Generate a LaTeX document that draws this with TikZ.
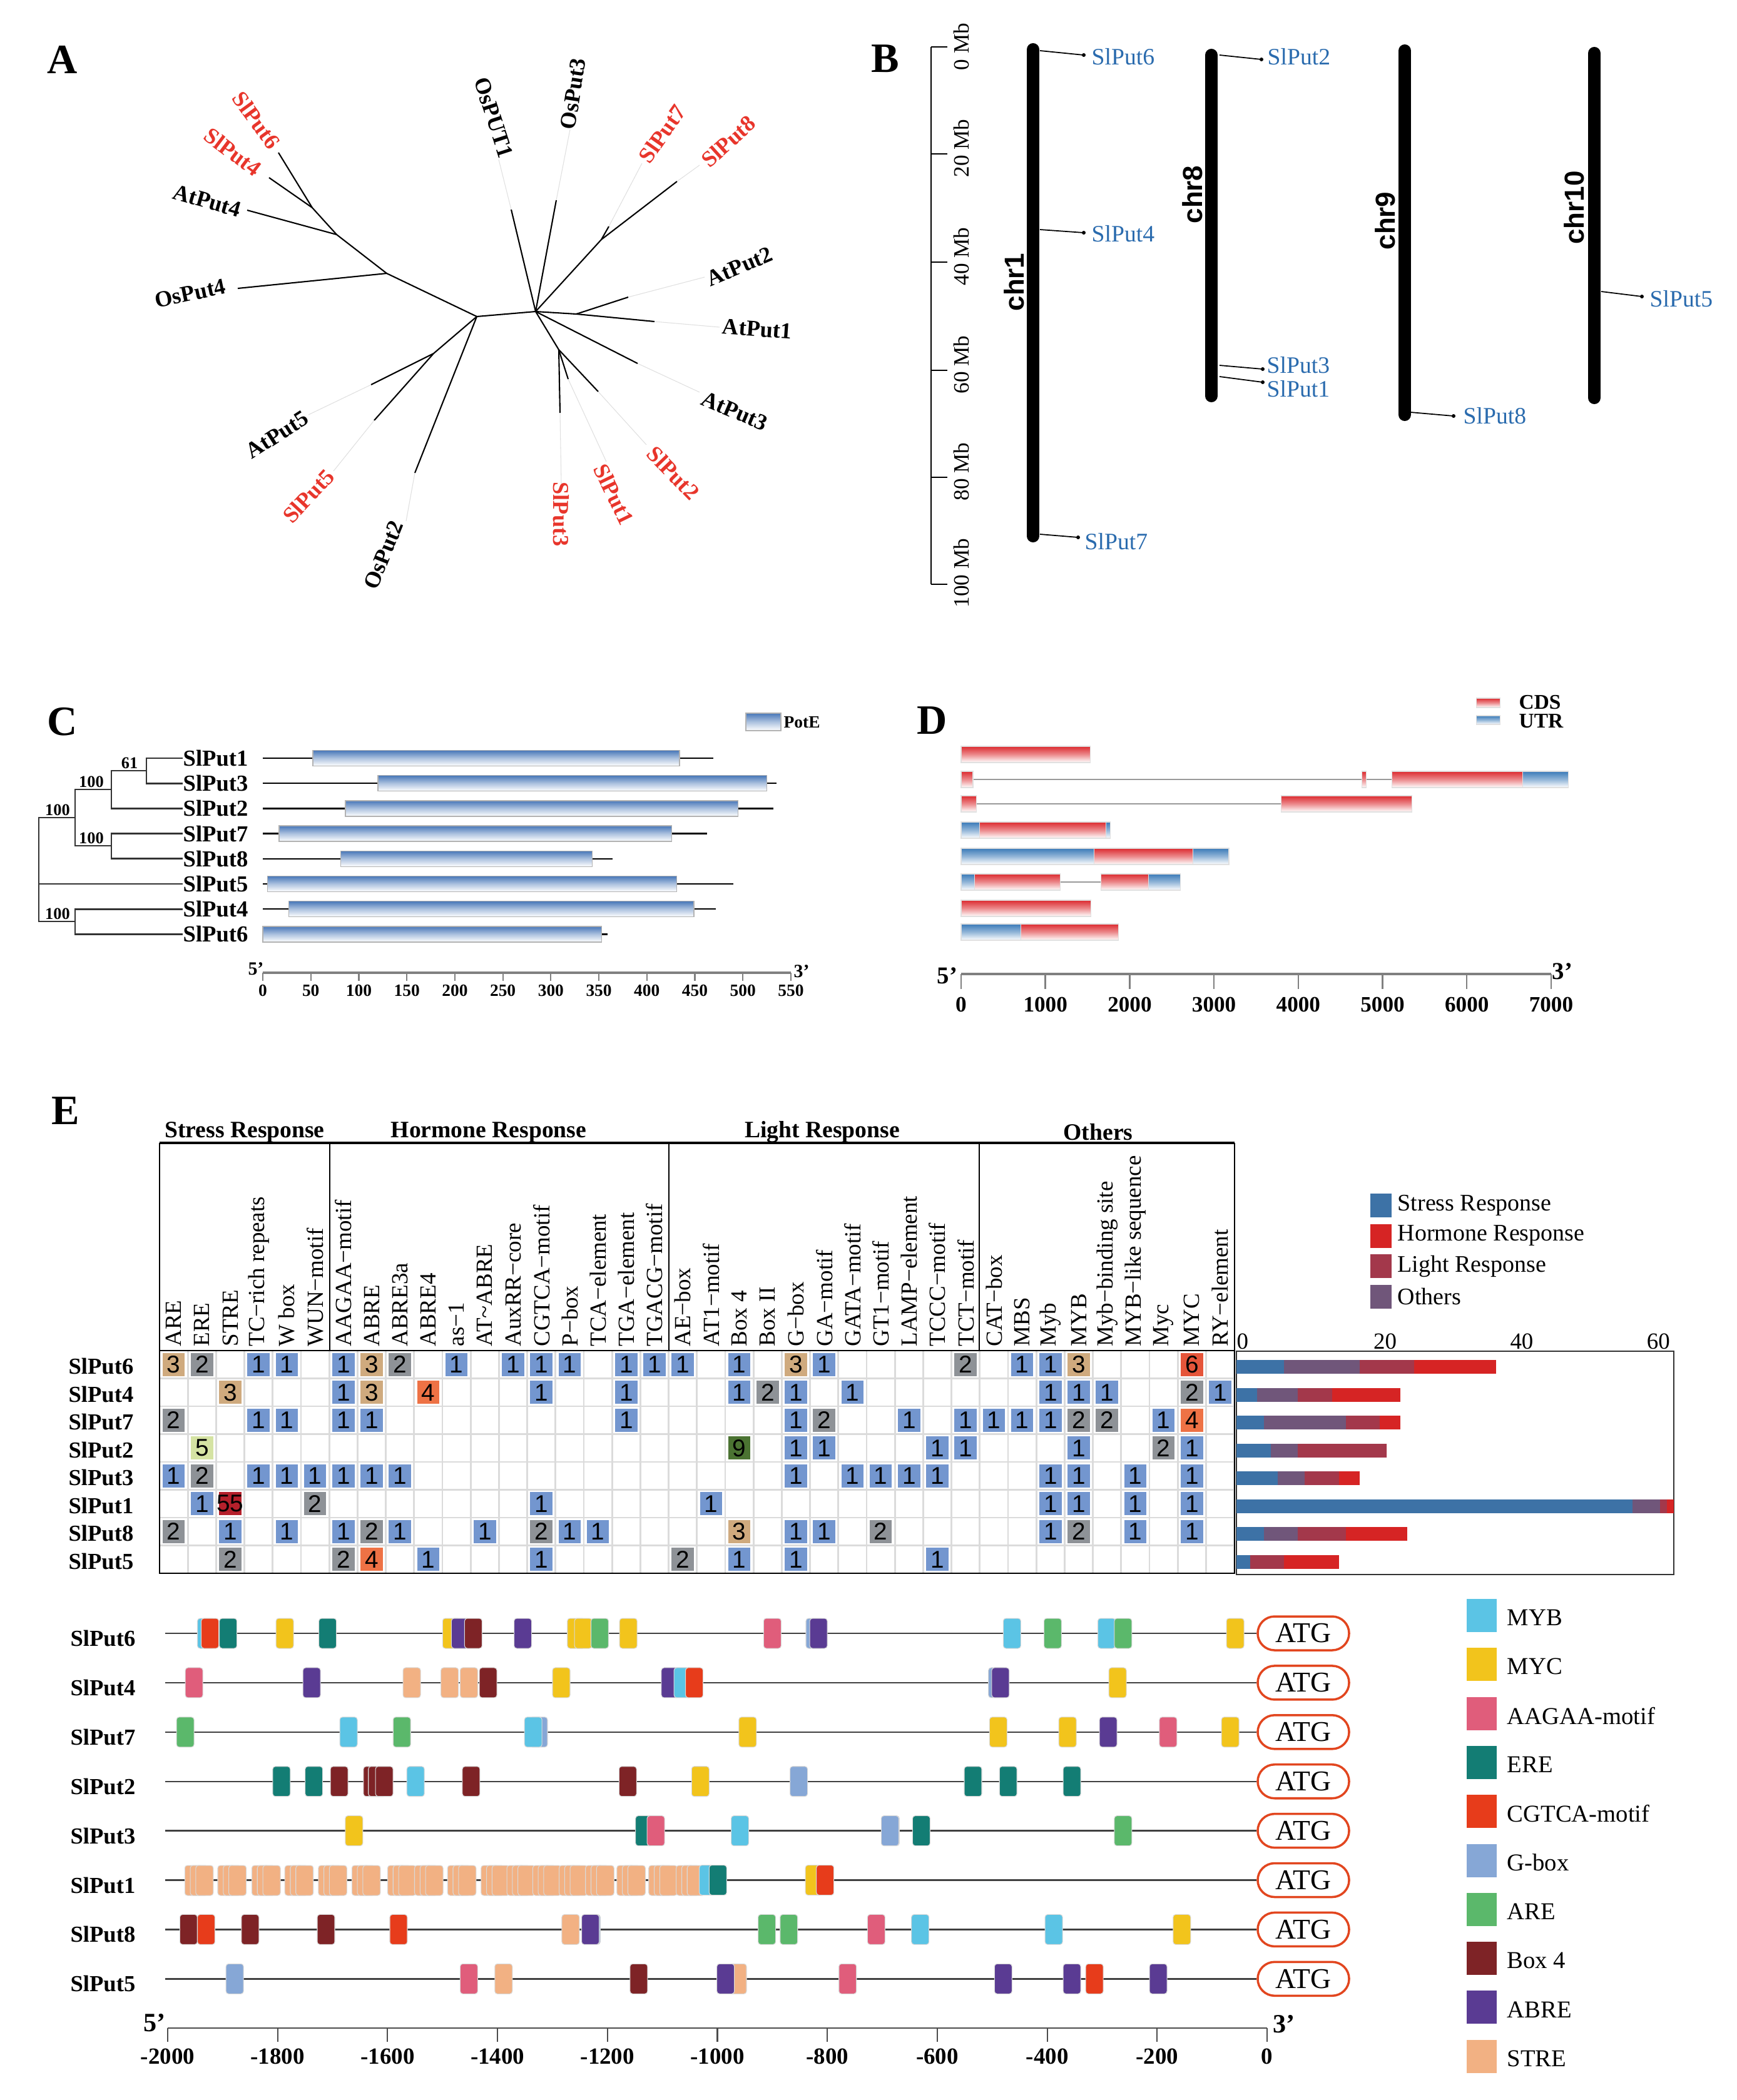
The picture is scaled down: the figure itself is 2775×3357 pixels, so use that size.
\documentclass[tikz,border=0pt]{standalone}
\usepackage{fontspec}
\setmainfont{Liberation Serif}
\setsansfont{Liberation Sans}
\usetikzlibrary{positioning}

\definecolor{slred}{HTML}{E8352B}
\definecolor{chrblue}{HTML}{2A6BAE}
\definecolor{potblue}{HTML}{4877B8}
\definecolor{cdsred}{HTML}{DC2A2F}
\definecolor{utrblue}{HTML}{3A7AB8}
\definecolor{cell1}{HTML}{7396CF}
\definecolor{cell2}{HTML}{8E9297}
\definecolor{cell3}{HTML}{CFAA7E}
\definecolor{cell4}{HTML}{EE7245}
\definecolor{cell5}{HTML}{D5E3A3}
\definecolor{cell6}{HTML}{E5553A}
\definecolor{cell9}{HTML}{4B7332}
\definecolor{cell55}{HTML}{B5202B}
\definecolor{stressc}{HTML}{3D72A6}
\definecolor{hormonec}{HTML}{D62424}
\definecolor{lightc}{HTML}{A3384B}
\definecolor{othersc}{HTML}{70567A}
\definecolor{mMYB}{HTML}{5BC4E5}
\definecolor{mMYC}{HTML}{F2C41C}
\definecolor{mAAGAA}{HTML}{E05D7B}
\definecolor{mERE}{HTML}{137D74}
\definecolor{mCGTCA}{HTML}{E73C1B}
\definecolor{mGbox}{HTML}{86A7D6}
\definecolor{mARE}{HTML}{5BB86B}
\definecolor{mBox}{HTML}{7E2326}
\definecolor{mABRE}{HTML}{5A3B93}
\definecolor{mSTRE}{HTML}{F2B183}
\definecolor{atgred}{HTML}{E2461F}

\tikzset{
  panel/.style={font=\fontsize{19}{19}\selectfont\bfseries, inner sep=0pt},
  treelab/.style={font=\fontsize{10.3}{11}\selectfont\bfseries, inner sep=0pt},
  branch/.style={line width=0.6pt},
  faint/.style={line width=0.3pt, black!12},
  chrom/.style={line width=5.7pt, line cap=round},
  chrlab/.style={font=\sffamily\bfseries\fontsize{12.5}{13}\selectfont, inner sep=0pt, rotate=90},
  genelab/.style={font=\fontsize{10.7}{11}\selectfont, text=chrblue, inner sep=0pt, anchor=west},
  mblab/.style={font=\fontsize{10}{10}\selectfont, inner sep=0pt, rotate=90, anchor=west},
  leaflab/.style={font=\fontsize{10.4}{11}\selectfont\bfseries, inner sep=0pt, anchor=west},
  boot/.style={font=\fontsize{7.5}{8}\selectfont\bfseries, inner sep=0pt, anchor=south},
  treeline/.style={line width=0.8pt, black!80},
  potebox/.style={draw=black!30, line width=0.4pt, top color=potblue, bottom color=white, middle color=potblue!45},
  exonbox/.style={draw=black!12, line width=0.3pt},
  intron/.style={line width=0.8pt, black!40},
  scaleax/.style={line width=1.1pt, black!50},
  ctick/.style={font=\fontsize{7.8}{8}\selectfont\bfseries, inner sep=0pt, anchor=north},
  dtick/.style={font=\fontsize{10}{10}\selectfont\bfseries, inner sep=0pt, anchor=north},
  primelab/.style={font=\fontsize{11}{11}\selectfont\bfseries, inner sep=0pt},
  dleg/.style={font=\fontsize{9.5}{10}\selectfont\bfseries, inner sep=0pt, anchor=west},
  grouplab/.style={font=\fontsize{10.7}{11}\selectfont\bfseries, inner sep=0pt},
  collab/.style={font=\fontsize{10.5}{11}\selectfont, inner sep=0pt, rotate=90, anchor=west},
  gridln/.style={line width=0.8pt, black!14},
  cellnum/.style={font=\sffamily\fontsize{11}{11}\selectfont, inner sep=0pt},
  axlab/.style={font=\fontsize{10.5}{11}\selectfont, inner sep=0pt},
  barleg/.style={font=\fontsize{10.8}{11}\selectfont, inner sep=0pt, anchor=west},
  atg/.style={draw=atgred, line width=1pt, rounded corners=0.27cm, minimum width=1.46cm, minimum height=0.54cm, inner sep=0pt, font=\fontsize{13}{13}\selectfont},
  geneln/.style={line width=0.7pt, black!75},
  motifbox/.style={draw=black!15, line width=0.3pt, rounded corners=1.2pt},
  mapaxis/.style={line width=0.6pt, black!70},
  maptick/.style={font=\fontsize{10.5}{11}\selectfont\bfseries, inner sep=0pt, anchor=north},
  motleg/.style={font=\fontsize{11}{11}\selectfont, inner sep=0pt, anchor=west}
}

\begin{document}
\begin{tikzpicture}[x=0.01cm, y=-0.01cm]
\fill[white] (0,0) rectangle (2775,3357);
\useasboundingbox (0,0) rectangle (2775,3357);

% A: unrooted tree
\node[panel] (labA) at (100,95) {A};
\foreach \nm/\x/\y in {ra/762/506, rb/856/498, a1/618/437, a2/538/375, a3/499/332, nl/693/565, nu/961/383, nr/921/502, nd/893/559}
  \coordinate (\nm) at (\x,\y);
\foreach \nm/\x/\y in {t6/445/244, t4/430/284, ta4/395/336, to4/380/461, to2/663/756, ta5/593/615, t5/598/672, tp1/817/335, to3/889/320, t7/973/362, t8/1082/290, ta2/1004/475, ta1/1046/514, ta3/1019/581, t2/956/626, t1/908/606, t3/895/660}
  \coordinate (\nm) at (\x,\y);
\draw[branch] (ra) -- (rb);
\draw[branch] (ra) -- (a1) -- (a2) -- (a3) -- (t6);
\foreach \p/\q in {a3/t4, a2/ta4, a1/to4, ra/nl, nl/ta5, nl/t5, ra/to2, rb/tp1, rb/to3, rb/nu, nu/t7, nu/t8, rb/nr, nr/ta2, nr/ta1, rb/ta3, rb/nd, nd/t3, nd/t1, nd/t2}
  \draw[branch] (\p) -- (\q);
\foreach \q/\x/\y in {tp1/797/255, to3/911/207, t7/1026/261, t8/1118/264, ta2/1126/443, ta1/1150/523, ta3/1118/627, t2/1033/711, t1/969/738, t3/897/773, to2/649/833, t5/533/753, ta5/493/663}
  \draw[faint] (\q) -- (\x,\y);
\foreach \nm/\x/\y/\a/\c in {SlPut6/410/192/-54/slred, SlPut4/372/243/-37/slred, AtPut4/331/321/-16/black, OsPut4/304/469/12/black, OsPUT1/789/188/-72/black, OsPut3/916/150/81/black, SlPut7/1058/214/55/slred, SlPut8/1164/226/42/slred, AtPut2/1182/426/23/black, AtPut1/1210/526/-4/black, AtPut3/1174/657/-23/black, SlPut2/1076/756/-46/slred, SlPut1/981/790/-64/slred, SlPut3/897/822/-90/slred, OsPut2/613/887/68/black, SlPut5/493/793/47/slred, AtPut5/443/695/33/black}
  \node[treelab, text=\c, rotate=\a] (a\nm) at (\x,\y) {\nm};

% B: chromosome map
\node[panel] (labB) at (1415,94) {B};
\draw[line width=0.5pt] (1488,75) -- (1488,934);
\foreach \v/\yy in {0/75, 20/246, 40/419, 60/592, 80/763, 100/934} {
  \draw[line width=0.5pt] (1488,\yy) -- (1514,\yy);
  \node[mblab] (mb\v) at (1536,\yy+38) {\v\ Mb};
}
\foreach \nm/\x/\ya/\yb/\lx/\ly in {chr1/1651/79/857/1621/451, chr8/1936/88/633/1906/311, chr9/2245/81/663/2214/353, chr10/2548/85/636/2516/332} {
  \draw[chrom] (\x,\ya) -- (\x,\yb);
  \node[chrlab] (l\nm) at (\lx,\ly) {\nm};
}
\foreach \g/\xa/\ya/\xb/\yb/\lx/\ly in {6/1662/81/1732/88/1744/91, 4/1662/367/1732/372/1744/374, 7/1662/854/1723/859/1733/866, 2/1949/88/2016/95/2025/91, 3/1949/584/2018/590/2024/584, 1/1949/602/2018/611/2024/622, 8/2254/659/2323/665/2338/665, 5/2559/466/2624/474/2636/478} {
  \coordinate (c\g) at (\xa,\ya);
  \coordinate (d\g) at (\xb,\yb);
  \draw[line width=0.5pt] (c\g) -- (d\g);
  \fill (d\g) circle[radius=3];
  \node[genelab] (g\g) at (\lx,\ly) {SlPut\g};
}

% C: tree and PotE domains
\node[panel] (labC) at (100,1154) {C};
\draw[potebox] (1192,1140) rectangle (1248,1168);
\node[font=\fontsize{7.8}{8}\selectfont\bfseries, anchor=west, inner sep=0pt] (pote) at (1252,1155) {PotE};
\foreach \i/\g/\len/\sa/\sb in {0/1/469/52/434, 1/3/535/120/525, 2/2/532/86/495, 3/7/463/17/426, 4/8/364/81/343, 5/5/490/5/431, 6/4/472/27/449, 7/6/359/0/353} {
  \pgfmathsetmacro{\yy}{1212+40.2*\i}
  \node[leaflab] (p\g) at (292,\yy) {SlPut\g};
  \draw[line width=0.7pt] (420,\yy) -- ({420+1.5345*\len},\yy);
  \draw[potebox] ({420+1.5345*\sa},\yy-12.5) rectangle ({420+1.5345*\sb},\yy+12.5);
}
\coordinate (n13) at (234,1232);
\coordinate (n132) at (178,1262);
\coordinate (n78) at (178,1352);
\coordinate (nup) at (120,1307);
\coordinate (n46) at (120,1473);
\coordinate (nroot) at (62,1390);
\draw[treeline] (p1.west) -| (n13) |- (p3.west);
\draw[treeline] (n13) -| (n132) |- (p2.west);
\draw[treeline] (p7.west) -| (n78) |- (p8.west);
\draw[treeline] (n132) -| (nup) |- (n78);
\draw[treeline] (p4.west) -| (n46) |- (p6.west);
\draw[treeline] (nup) -| (nroot) |- (n46);
\draw[treeline] (nroot |- p5.west) -- (p5.west);
\node[boot] (b1) at (207,1229) {61};
\node[boot] (b2) at (146,1259) {100};
\node[boot] (b3) at (146,1349) {100};
\node[boot] (b4) at (92,1304) {100};
\node[boot] (b5) at (92,1470) {100};
\draw[scaleax] (420,1555) -- (1264,1555);
\foreach \v in {0,50,...,550} {
  \draw[scaleax, line width=0.6pt] ({420+1.5345*\v},1555) -- ({420+1.5345*\v},1568);
  \node[ctick] (ct\v) at ({420+1.5345*\v},1574) {\v};
}
\node[primelab, font=\fontsize{8.5}{9}\selectfont\bfseries] (c5) at (409,1549) {5'};
\node[primelab, font=\fontsize{8.5}{9}\selectfont\bfseries] (c3) at (1281,1553) {3'};

% D: gene structure
\node[panel] (labD) at (1490,1152) {D};
\draw[exonbox, top color=cdsred, bottom color=white, middle color=cdsred!55] (2359,1116) rectangle (2397,1131);
\draw[exonbox, top color=utrblue, bottom color=white, middle color=utrblue!55] (2359,1144) rectangle (2397,1158);
\node[dleg] (lcds) at (2427,1123) {CDS};
\node[dleg] (lutr) at (2427,1153) {UTR};
\foreach \yy/\a/\b in {1246/141/4756, 1246/4806/5109, 1285/182/3797, 1410/1175/1659}
  \draw[intron] ({1536+0.1347*\a},\yy) -- ({1536+0.1347*\b},\yy);
\foreach \yy/\a/\b/\t in {1206/0/1530/cdsred, 1246/0/141/cdsred, 1246/4756/4806/cdsred, 1246/5109/6662/cdsred, 1246/6662/7201/utrblue, 1285/0/182/cdsred, 1285/3797/5351/cdsred, 1327/0/217/utrblue, 1327/217/1715/cdsred, 1327/1715/1770/utrblue, 1369/0/1578/utrblue, 1369/1578/2748/cdsred, 1369/2748/3177/utrblue, 1410/0/156/utrblue, 1410/156/1175/cdsred, 1410/1659/2224/cdsred, 1410/2224/2602/utrblue, 1452/0/1543/cdsred, 1490/0/711/utrblue, 1490/711/1866/cdsred}
  \draw[exonbox, top color=\t, bottom color=white, middle color=\t!55] ({1536+0.1347*\a},\yy-13) rectangle ({1536+0.1347*\b},\yy+13);
\draw[scaleax, line width=1.3pt] (1536,1557) -- (2479,1557);
\foreach \v in {0,1000,...,7000} {
  \draw[scaleax, line width=0.7pt] ({1536+0.1347*\v},1557) -- ({1536+0.1347*\v},1581);
  \node[dtick] (dt\v) at ({1536+0.1347*\v},1593) {\v};
}
\node[primelab] (d5) at (1514,1560) {5'};
\node[primelab] (d3) at (2497,1553) {3'};

% E: cis-element grid
\node[panel] (labE) at (105,1776) {E};
\foreach \nm/\x/\t in {gs/391/Stress Response, gh/781/Hormone Response, gl/1314/Light Response, go/1755/Others}
  \node[grouplab] (\nm) at (\x,1810) {\t};
\draw[line width=0.9pt] (255,1827) -- (1973,1827);
\foreach \x in {255,527,1069,1565,1973}
  \draw[line width=0.6pt] (\x,1827) -- (\x,2159);
\foreach \c/\t in {0/ARE, 1/ERE, 2/STRE, 3/TC−rich repeats, 4/W box, 5/WUN−motif, 6/AAGAA−motif, 7/ABRE, 8/ABRE3a, 9/ABRE4, 10/as−1, 11/AT\textasciitilde ABRE, 12/AuxRR−core, 13/CGTCA−motif, 14/P−box, 15/TCA−element, 16/TGA−element, 17/TGACG−motif, 18/AE−box, 19/AT1−motif, 20/Box 4, 21/Box II, 22/G−box, 23/GA−motif, 24/GATA−motif, 25/GT1−motif, 26/LAMP−element, 27/TCCC−motif, 28/TCT−motif, 29/CAT−box, 30/MBS, 31/Myb, 32/MYB, 33/Myb−binding site, 34/MYB−like sequence, 35/Myc, 36/MYC, 37/RY−element}
  \node[collab] (h\c) at ({255+45.2*(\c+0.5)},2153) {\t};
\foreach \c in {0,...,38}
  \draw[gridln] ({255+45.2*\c},2159) -- ({255+45.2*\c},2515);
\foreach \r in {0,...,8}
  \draw[gridln] (255,{2159+44.5*\r}) -- (1973,{2159+44.5*\r});
\draw[line width=0.6pt] (255,2159) rectangle (1973,2515);
\foreach \r/\cells in {0/{0/3,1/2,3/1,4/1,6/1,7/3,8/2,10/1,12/1,13/1,14/1,16/1,17/1,18/1,20/1,22/3,23/1,28/2,30/1,31/1,32/3,36/6},
                       1/{2/3,6/1,7/3,9/4,13/1,16/1,20/1,21/2,22/1,24/1,31/1,32/1,33/1,36/2,37/1},
                       2/{0/2,3/1,4/1,6/1,7/1,16/1,22/1,23/2,26/1,28/1,29/1,30/1,31/1,32/2,33/2,35/1,36/4},
                       3/{1/5,20/9,22/1,23/1,27/1,28/1,32/1,35/2,36/1},
                       4/{0/1,1/2,3/1,4/1,5/1,6/1,7/1,8/1,22/1,24/1,25/1,26/1,27/1,31/1,32/1,34/1,36/1},
                       5/{1/1,2/55,5/2,13/1,19/1,31/1,32/1,34/1,36/1},
                       6/{0/2,2/1,4/1,6/1,7/2,8/1,11/1,13/2,14/1,15/1,20/3,22/1,23/1,25/2,31/1,32/2,34/1,36/1},
                       7/{2/2,6/2,7/4,9/1,13/1,18/2,20/1,22/1,27/1}} {
  \foreach \c/\v in \cells {
    \pgfmathsetmacro{\cx}{255+45.2*(\c+0.5)}
    \pgfmathsetmacro{\cy}{2159+44.5*(\r+0.5)}
    \fill[cell\v] (\cx-17.8,\cy-18.5) rectangle (\cx+17.8,\cy+18.5);
    \node[cellnum] (k\r-\c) at (\cx,\cy) {\v};
  }
}
\foreach \r/\g in {0/6,1/4,2/7,3/2,4/3,5/1,6/8,7/5}
  \node[leaflab, anchor=east] (e\g) at (214,{2159+44.5*(\r+0.5)+3}) {SlPut\g};

% E: stacked counts
\draw[line width=0.5pt, black!80] (1976,2160) rectangle (2675,2517);
\foreach \v in {0,20,40,60}
  \node[axlab, anchor=south west] (bx\v) at ({1976+10.92*\v},2158) {\v};
\foreach \r/\sa/\oa/\la/\ha in {0/7/18/26/38, 1/3/9/14/24, 2/4/16/21/24, 3/5/9/22/22, 4/6/10/15/18, 5/58/62/63/64, 6/4/9/16/25, 7/2/2/7/15} {
  \pgfmathsetmacro{\yy}{2159+44.5*(\r+0.5)+4}
  \fill[stressc] (1976,\yy-11) rectangle ({1976+10.92*\sa},\yy+11);
  \fill[othersc] ({1976+10.92*\sa},\yy-11) rectangle ({1976+10.92*\oa},\yy+11);
  \fill[lightc] ({1976+10.92*\oa},\yy-11) rectangle ({1976+10.92*\la},\yy+11);
  \fill[hormonec] ({1976+10.92*\la},\yy-11) rectangle ({1976+10.92*\ha},\yy+11);
}
\foreach \i/\c/\t in {0/stressc/Stress Response, 1/hormonec/Hormone Response, 2/lightc/Light Response, 3/othersc/Others} {
  \fill[\c] (2190,{1908+48.5*\i}) rectangle (2224,{1946+48.5*\i});
  \node[barleg] (bl\i) at (2233,{1927+48.5*\i}) {\t};
}

% E: promoter map
\foreach \r/\g in {0/6,1/4,2/7,3/2,4/3,5/1,6/8,7/5} {
  \pgfmathsetmacro{\yy}{2611+78.9*\r}
  \node[atg] (atg\g) at (2083,\yy) {ATG};
  \node[leaflab, anchor=east] (m\g) at (217,\yy+8) {SlPut\g};
  \draw[geneln] (264,\yy) -- (atg\g.west);
}
\foreach \b in {-1969,-1909,-1847,-1787,-1726,-1665,-1600,-1551,-1491,-1430,-1383,-1336,-1288,-1240,-1183,-1125,-1075}
  \foreach \d in {0,10,20} {
    \pgfmathsetmacro{\mx}{2025+0.8785*(\b+16+\d)}
    \draw[motifbox, fill=mSTRE] (\mx-14,3006-24) rectangle (\mx+14,3006+24);
  }
\foreach \r/\b/\c in {0/-1930/mMYB, 0/-1923/mCGTCA, 0/-1890/mERE, 0/-1787/mMYC, 0/-1709/mERE, 0/-1484/mMYC, 0/-1466/mGbox, 0/-1468/mABRE, 0/-1444/mBox, 0/-1354/mABRE, 0/-1257/mMYC, 0/-1244/mMYC, 0/-1214/mARE, 0/-1162/mMYC, 0/-900/mAAGAA, 0/-823/mGbox, 0/-816/mABRE, 0/-464/mMYB, 0/-390/mARE, 0/-292/mMYB, 0/-262/mARE, 0/-58/mMYC,
    1/-1952/mAAGAA, 1/-1738/mABRE, 1/-1556/mSTRE, 1/-1487/mSTRE, 1/-1452/mSTRE, 1/-1417/mBox, 1/-1284/mMYC, 1/-1086/mABRE, 1/-1063/mMYB, 1/-1042/mCGTCA, 1/-491/mGbox, 1/-485/mABRE, 1/-272/mMYC,
    2/-1968/mARE, 2/-1671/mMYB, 2/-1574/mARE, 2/-1325/mGbox, 2/-1335/mMYB, 2/-945/mMYC, 2/-489/mMYC, 2/-363/mMYC, 2/-289/mABRE, 2/-180/mAAGAA, 2/-67/mMYC,
    3/-1793/mERE, 3/-1734/mERE, 3/-1688/mBox, 3/-1628/mBox, 3/-1619/mBox, 3/-1606/mBox, 3/-1549/mMYB, 3/-1448/mBox, 3/-1163/mBox, 3/-1031/mMYC, 3/-852/mGbox, 3/-535/mERE, 3/-471/mERE, 3/-355/mERE,
    4/-1661/mMYC, 4/-1133/mERE, 4/-1112/mAAGAA, 4/-959/mMYB, 4/-685/mABRE, 4/-686/mGbox, 4/-629/mERE, 4/-262/mARE,
    5/-1017/mMYB, 5/-999/mERE, 5/-824/mMYC, 5/-804/mCGTCA,
    6/-1962/mBox, 6/-1930/mCGTCA, 6/-1850/mBox, 6/-1712/mBox, 6/-1580/mCGTCA, 6/-1267/mSTRE, 6/-1229/mGbox, 6/-1231/mABRE, 6/-910/mARE, 6/-870/mARE, 6/-711/mAAGAA, 6/-631/mMYB, 6/-388/mMYB, 6/-155/mMYC,
    7/-1878/mGbox, 7/-1452/mAAGAA, 7/-1389/mSTRE, 7/-1143/mBox, 7/-963/mSTRE, 7/-985/mABRE, 7/-763/mAAGAA, 7/-480/mABRE, 7/-355/mABRE, 7/-314/mCGTCA, 7/-198/mABRE} {
  \pgfmathsetmacro{\mx}{2025+0.8785*\b}
  \pgfmathsetmacro{\my}{2611+78.9*\r}
  \draw[motifbox, fill=\c] (\mx-14,\my-24) rectangle (\mx+14,\my+24);
}
\draw[mapaxis] (268,3242) -- (2025,3242);
\foreach \v in {-2000,-1800,...,0} {
  \draw[mapaxis] ({2025+0.8785*\v},3242) -- ({2025+0.8785*\v},3264);
  \node[maptick] (ax\v) at ({2025+0.8785*\v},3274) {\v};
}
\node[primelab, font=\fontsize{12}{12}\selectfont\bfseries] (m5) at (247,3234) {5'};
\node[primelab, font=\fontsize{12}{12}\selectfont\bfseries] (m3) at (2052,3236) {3'};
\foreach \i/\c/\t in {0/mMYB/MYB, 1/mMYC/MYC, 2/mAAGAA/AAGAA-motif, 3/mERE/ERE, 4/mCGTCA/CGTCA-motif, 5/mGbox/G-box, 6/mARE/ARE, 7/mBox/Box 4, 8/mABRE/ABRE, 9/mSTRE/STRE} {
  \fill[\c] (2344,{2556+78.3*\i}) rectangle (2392,{2609+78.3*\i});
  \node[motleg] (ml\i) at (2408,{2586+78.3*\i}) {\t};
}
\end{tikzpicture}
\end{document}
